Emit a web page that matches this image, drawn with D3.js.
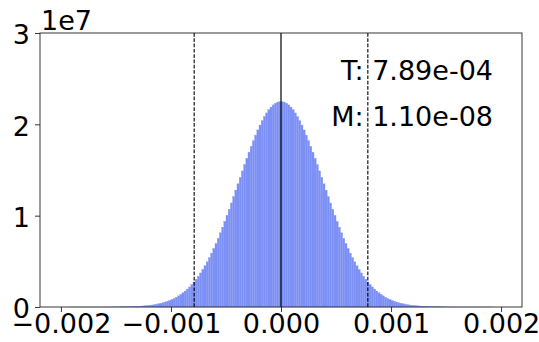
<!DOCTYPE html>
<html>
<head>
<meta charset="utf-8">
<script src="https://cdn.jsdelivr.net/npm/d3@7"></script>
<style>
  body { margin: 0; background: #fff; }
  text { font-family: "DejaVu Sans", sans-serif; fill: #000; }
</style>
</head>
<body>
<div id="chart"></div>
<script>
// histogram bins, width 2e-5, from -0.002 to 0.002
var binStart = -0.002;
var binWidth = 0.00002;
// bin counts in units of 1e6 (left to right)
var binCounts = [
  0, 0, 0, 0, 0.0001, 0.0001, 0.0001, 0.0002, 0.0002, 0.0003,
  0.0004, 0.0005, 0.0007, 0.0009, 0.0011, 0.0014, 0.0018, 0.0023, 0.0029, 0.0036,
  0.0045, 0.0055, 0.0068, 0.0083, 0.010, 0.013, 0.015, 0.019, 0.023, 0.028,
  0.033, 0.040, 0.048, 0.058, 0.069, 0.082, 0.098, 0.12, 0.14, 0.16,
  0.19, 0.22, 0.26, 0.30, 0.35, 0.41, 0.47, 0.55, 0.63, 0.72,
  0.83, 0.94, 1.07, 1.22, 1.38, 1.56, 1.75, 1.97, 2.20, 2.46,
  2.74, 3.05, 3.37, 3.73, 4.11, 4.52, 4.95, 5.41, 5.90, 6.41,
  6.96, 7.52, 8.12, 8.74, 9.38, 10.04, 10.71, 11.39, 12.09, 12.79,
  13.49, 14.20, 14.90, 15.60, 16.28, 16.95, 17.59, 18.22, 18.82, 19.39,
  19.92, 20.41, 20.86, 21.25, 21.60, 21.89, 22.13, 22.31, 22.43, 22.49,
  22.49, 22.43, 22.31, 22.13, 21.89, 21.60, 21.25, 20.86, 20.41, 19.92,
  19.39, 18.82, 18.22, 17.59, 16.95, 16.28, 15.60, 14.90, 14.20, 13.49,
  12.79, 12.09, 11.39, 10.71, 10.04, 9.38, 8.74, 8.12, 7.52, 6.96,
  6.41, 5.90, 5.41, 4.95, 4.52, 4.11, 3.73, 3.37, 3.05, 2.74,
  2.46, 2.20, 1.97, 1.75, 1.56, 1.38, 1.22, 1.07, 0.94, 0.83,
  0.72, 0.63, 0.55, 0.47, 0.41, 0.35, 0.30, 0.26, 0.22, 0.19,
  0.16, 0.14, 0.12, 0.098, 0.082, 0.069, 0.058, 0.048, 0.040, 0.033,
  0.028, 0.023, 0.019, 0.015, 0.013, 0.010, 0.0083, 0.0068, 0.0055, 0.0045,
  0.0036, 0.0029, 0.0023, 0.0018, 0.0014, 0.0011, 0.0009, 0.0007, 0.0005, 0.0004,
  0.0003, 0.0002, 0.0002, 0.0001, 0.0001, 0.0001, 0, 0, 0, 0
];
var xTicks = [-0.002, -0.001, 0, 0.001, 0.002];
var xTickLabels = ["\u22120.002", "\u22120.001", "0.000", "0.001", "0.002"];
var yTicks = [0, 1e7, 2e7, 3e7];
var yTickLabels = ["0", "1", "2", "3"];
var threshold = 7.89e-4;
var meanValue = 1.10e-8;
var notes = ["T: 7.89e-04", "M: 1.10e-08"];

var width = 539;
var height = 342;
var margin = { top: 33, right: 17, bottom: 35, left: 40 };

var svg = d3.select("#chart")
  .append("svg")
  .attr("width", width)
  .attr("height", height);

var xScale = d3.scaleLinear()
  .domain([-0.00219, 0.00219])
  .range([margin.left, width - margin.right]);

var yScale = d3.scaleLinear()
  .domain([0, 3e7])
  .range([height - margin.bottom, margin.top]);

var bins = binCounts.map(function(c, i) {
  return { x0: binStart + i * binWidth, x1: binStart + (i + 1) * binWidth, count: c * 1e6 };
});

// bars
svg.append("g")
  .selectAll("rect")
  .data(bins)
  .enter()
  .append("rect")
  .attr("x", d => xScale(d.x0))
  .attr("width", d => xScale(d.x1) - xScale(d.x0))
  .attr("y", d => yScale(d.count))
  .attr("height", d => yScale(0) - yScale(d.count))
  .attr("fill", "#7b8ff4")
  .attr("stroke", "#8799f5")
  .attr("stroke-width", 0.3);

// vertical reference lines
var plotTop = margin.top;
var plotBot = height - margin.bottom;

svg.append("line")
  .attr("x1", xScale(meanValue)).attr("x2", xScale(meanValue))
  .attr("y1", plotTop).attr("y2", plotBot)
  .attr("stroke", "#000").attr("stroke-width", 1.2);

[-threshold, threshold].forEach(function(t) {
  svg.append("line")
    .attr("x1", xScale(t)).attr("x2", xScale(t))
    .attr("y1", plotTop).attr("y2", plotBot)
    .attr("stroke", "#000").attr("stroke-width", 1.1)
    .attr("stroke-dasharray", "3.7,1.6");
});

// axes
var bottomAxis = d3.axisBottom(xScale)
  .tickValues(xTicks)
  .tickFormat((d, i) => xTickLabels[i])
  .tickSize(5)
  .tickPadding(2);

var leftAxis = d3.axisLeft(yScale)
  .tickValues(yTicks)
  .tickFormat((d, i) => yTickLabels[i])
  .tickSize(5)
  .tickPadding(5);

var xAxis = svg.append("g")
  .attr("transform", `translate(0, ${plotBot})`)
  .call(bottomAxis);

var yAxis = svg.append("g")
  .attr("transform", `translate(${margin.left}, 0)`)
  .call(leftAxis);

[xAxis, yAxis].forEach(function(ax) {
  ax.select(".domain").remove();
  ax.selectAll(".tick line").attr("stroke", "#222").attr("stroke-width", 0.9);
  ax.selectAll(".tick text")
    .style("font-family", "'DejaVu Sans', sans-serif")
    .style("font-size", "27px")
    .attr("fill", "#000");
});
yAxis.selectAll(".tick text").attr("dy", "0.4em");

// frame
svg.append("rect")
  .attr("x", margin.left)
  .attr("y", plotTop)
  .attr("width", width - margin.right - margin.left)
  .attr("height", plotBot - plotTop)
  .attr("fill", "none")
  .attr("stroke", "#222")
  .attr("stroke-width", 0.9);

// offset label
svg.append("text")
  .attr("x", 41)
  .attr("y", 30)
  .style("font-size", "27px")
  .text("1e7");

// annotations
svg.selectAll(".note")
  .data(notes)
  .enter()
  .append("text")
  .attr("class", "note")
  .attr("x", 493)
  .attr("y", (d, i) => 80 + i * 46)
  .attr("text-anchor", "end")
  .style("font-size", "27px")
  .text(d => d);
</script>
</body>
</html>
